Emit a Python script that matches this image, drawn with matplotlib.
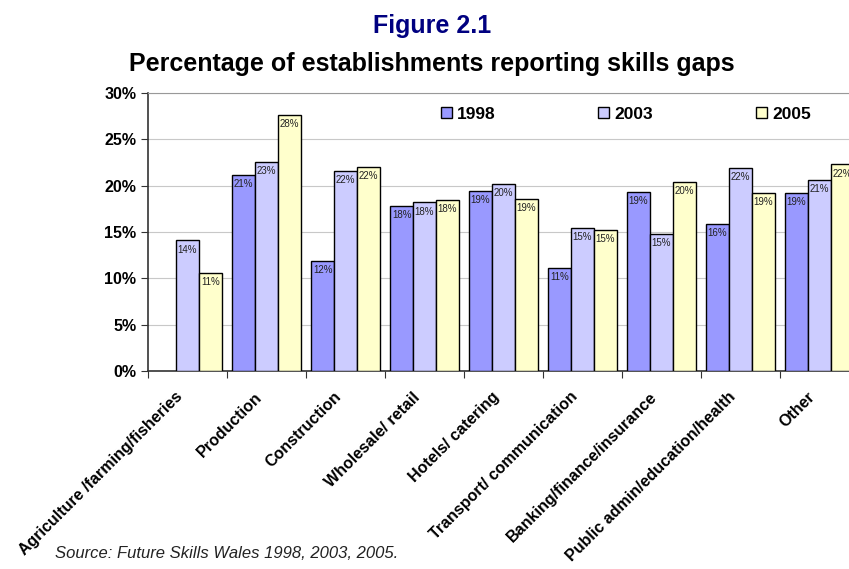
import numpy as np
import matplotlib.pyplot as plt
import matplotlib.transforms as mtransforms
from matplotlib.ticker import FuncFormatter, MultipleLocator

plt.rcParams['font.family'] = ['Liberation Sans', 'DejaVu Sans']

# share of establishments reporting skills gaps, in percent
sectors = ['Agriculture /farming/fisheries', 'Production', 'Construction',
           'Wholesale/ retail', 'Hotels/ catering', 'Transport/ communication',
           'Banking/finance/insurance', 'Public admin/education/health', 'Other']
years = ['1998', '2003', '2005']
gaps_1998 = [np.nan, 21.2, 11.9, 17.85, 19.4, 11.1, 19.3, 15.9, 19.2]
gaps_2003 = [14.1, 22.55, 21.6, 18.2, 20.2, 15.4, 14.75, 21.9, 20.6]
gaps_2005 = [10.6, 27.6, 22.0, 18.5, 18.6, 15.25, 20.4, 19.2, 22.3]
colours = ['#9999FF', '#CCCCFF', '#FFFFCC']

fig = plt.figure(figsize=(8.49, 5.69), dpi=100)
ax = fig.add_axes([148 / 849, 1 - 371 / 569, 711 / 849, 278 / 569])

x = np.arange(len(sectors))
w = 0.29
for i, (vals, col, yr) in enumerate(zip([gaps_1998, gaps_2003, gaps_2005], colours, years)):
    bars = ax.bar(x + (i - 1) * w, vals, w, color=col, edgecolor='black',
                  linewidth=1.0, label=yr, zorder=3)
    for b, v in zip(bars, vals):
        if np.isnan(v):
            continue
        ax.annotate('%d%%' % round(v), (b.get_x() + b.get_width() / 2, v),
                    xytext=(0, -3), textcoords='offset points',
                    ha='center', va='top', fontsize=7, color='#222222', zorder=4)

ax.set_xlim(-0.5, len(sectors) - 0.5)
ax.set_ylim(0, 30)
ax.yaxis.set_major_locator(MultipleLocator(5))
ax.yaxis.set_major_formatter(FuncFormatter(lambda v, p: '%d%%' % v))
ax.grid(axis='y', color='#c8c8c8', linewidth=0.8, zorder=0)

ax.set_xticks(x)
ax.set_xticklabels(sectors, rotation=45, ha='right', va='center',
                   rotation_mode='anchor', fontweight='bold', fontsize=11.5)
ax.tick_params(axis='x', length=0, pad=17)
# nudge the slanted labels a little to the left of the group centre
shift = mtransforms.ScaledTranslation(-7 / 100, 0, fig.dpi_scale_trans)
for lab in ax.get_xticklabels():
    lab.set_transform(lab.get_transform() + shift)
ax.set_xticks(np.arange(-0.5, len(sectors)), minor=True)
ax.tick_params(axis='x', which='minor', length=5, width=0.8, color='#333333')
ax.tick_params(axis='y', length=5, width=0.8, color='#333333', labelsize=11.5)
for lab in ax.get_yticklabels():
    lab.set_fontweight('bold')

for s in ['left', 'bottom']:
    ax.spines[s].set_color('#333333')
    ax.spines[s].set_linewidth(1.2)
ax.spines['top'].set_color('#999999')
ax.spines['right'].set_visible(False)

ax.legend(loc='upper left', bbox_to_anchor=(425 / 849, 1 - 91 / 569),
          bbox_transform=fig.transFigure, ncol=3, frameon=False,
          handlelength=0.65, handleheight=0.65, handletextpad=0.3,
          columnspacing=5.9, prop={'weight': 'bold', 'size': 12.5})

fig.text(432 / 849, 1 - 26 / 569, 'Figure 2.1', ha='center', va='center',
         fontsize=18, fontweight='bold', color='#000080')
fig.text(432 / 849, 1 - 64 / 569, 'Percentage of establishments reporting skills gaps',
         ha='center', va='center', fontsize=18, fontweight='bold')
fig.text(55 / 849, 1 - 553 / 569, 'Source: Future Skills Wales 1998, 2003, 2005.',
         ha='left', va='center', fontsize=12, style='italic', color='#222222')

fig.savefig('out.png', dpi=100)
